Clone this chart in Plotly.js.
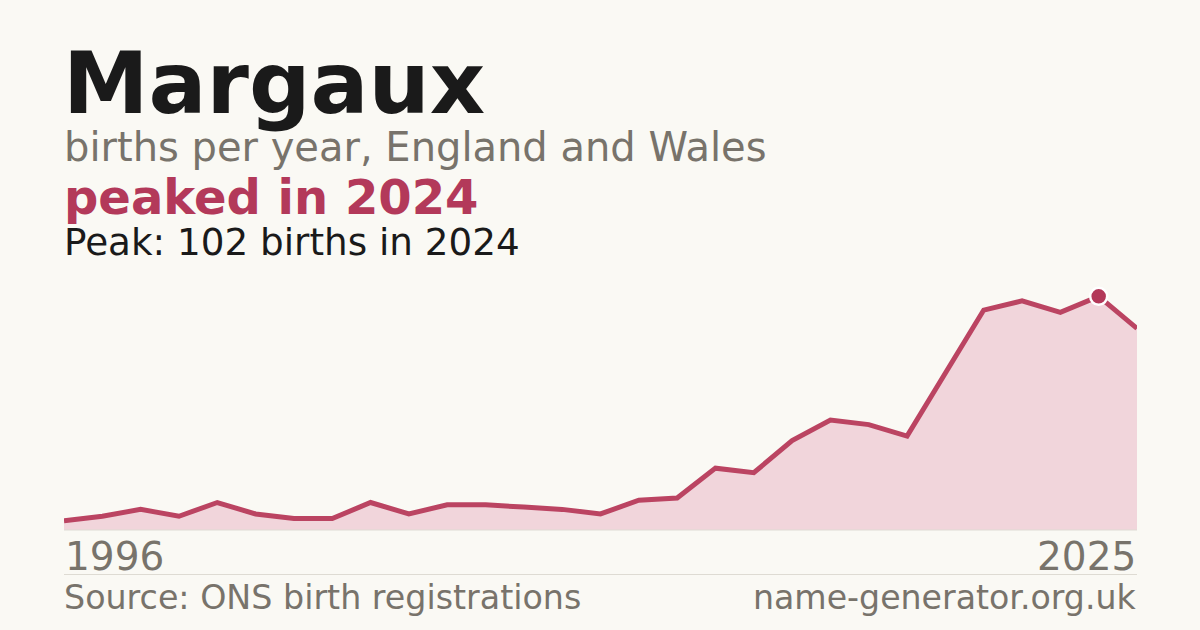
<!DOCTYPE html>
<html>
<head>
<meta charset="utf-8">
<script src="https://cdn.plot.ly/plotly-3.0.1.min.js"></script>
<style>
  html, body { margin: 0; padding: 0; background: #faf9f4; }
  #chart { width: 1200px; height: 630px; }
</style>
</head>
<body>
<div id="chart"></div>
<script>
// ---- data ----
const nameTitle = "Margaux";
const subtitle = "births per year, England and Wales";
const headline = "peaked in 2024";
const peakText = "Peak: 102 births in 2024";
const tickLabels = ["1996", "2025"];
const births = [4, 6, 9, 6, 12, 7, 5, 5, 12, 7, 11, 11, 10, 9, 7, 13, 14, 27, 25, 39, 48, 46, 41, 68, 96, 100, 95, 102, 88];
const sourceText = "Source: ONS birth registrations";
const siteText = "name-generator.org.uk";

// ---- layout helpers ----
const W = 1200, H = 630;
const L = 64, R = 1137, T = 278, B = 530;
const px2x = x => (x - L) / (R - L);
const px2y = y => (B - y) / (B - T);

const xs = births.map((_, i) => i);
const peakIdx = births.indexOf(Math.max(...births));

const crimson = "#b3395a";
const gray = "#78736b";
const font = "DejaVu Sans, Verdana, sans-serif";

const traces = [
  {
    x: xs, y: births, type: "scatter", mode: "lines",
    fill: "tozeroy", fillcolor: "#f1d5db",
    line: { color: "#bb4462", width: 5, shape: "linear" },
    hoverinfo: "skip", cliponaxis: false
  },
  {
    x: [xs[peakIdx]], y: [births[peakIdx]], type: "scatter", mode: "markers",
    marker: { size: 17, color: crimson, line: { color: "#ffffff", width: 2.5 } },
    hoverinfo: "skip", cliponaxis: false
  }
];

const ann = (text, xpx, ypx, size, color, opts = {}) => Object.assign({
  text, x: px2x(xpx), y: px2y(ypx), xref: "paper", yref: "paper",
  xanchor: "left", yanchor: "middle", showarrow: false,
  font: { family: font, size, color }, borderpad: 0
}, opts);

const layout = {
  width: W, height: H,
  paper_bgcolor: "#faf9f4", plot_bgcolor: "rgba(0,0,0,0)",
  margin: { l: L, r: W - R, t: T, b: H - B, pad: 0 },
  showlegend: false,
  xaxis: { range: [0, births.length - 1], visible: false, fixedrange: true },
  yaxis: { range: [0, 110], visible: false, fixedrange: true },
  shapes: [
    { type: "line", xref: "paper", yref: "paper", x0: 0, x1: 1, y0: 0, y1: 0,
      line: { color: "#dedbd3", width: 1 } },
    { type: "line", xref: "paper", yref: "paper", x0: 0, x1: 1, y0: px2y(574.5), y1: px2y(574.5),
      line: { color: "#dedbd3", width: 1 } }
  ],
  annotations: [
    ann("<b>" + nameTitle + "</b>", 62, 83, 86, "#1a1a1a"),
    ann(subtitle, 63, 146.5, 40, gray),
    ann("<b>" + headline + "</b>", 63, 197, 48, crimson),
    ann(peakText, 63, 241.5, 37.3, "#1a1a1a"),
    Object.assign(ann(tickLabels[0], 0, 556, 39, gray), { x: 0, xref: "x", xanchor: "left" }),
    Object.assign(ann(tickLabels[1], 0, 556, 39, gray), { x: births.length - 1, xref: "x", xanchor: "right" }),
    ann(sourceText, 63, 597.5, 33.3, gray),
    ann(siteText, 1137, 597.5, 33.2, gray, { xanchor: "right" })
  ]
};

Plotly.newPlot("chart", traces, layout, { displayModeBar: false, staticPlot: true });
</script>
</body>
</html>
